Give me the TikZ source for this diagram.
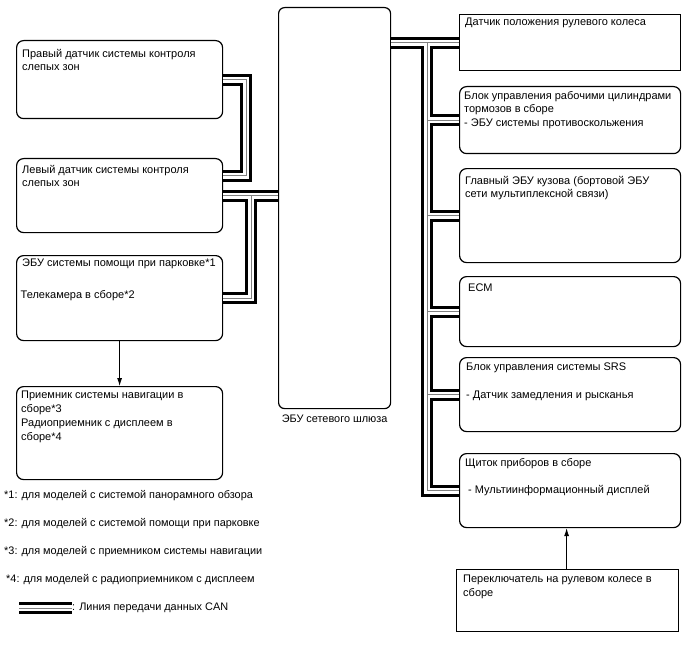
\documentclass[tikz,border=0pt]{standalone}
\usepackage{fontspec}
\setmainfont{Liberation Sans}
\usetikzlibrary{positioning,arrows.meta}
\tikzset{
 box/.style={draw, line width=1.2pt, inner sep=0pt, anchor=north west},
 rbox/.style={box, rounded corners=7pt},
 txt/.style={anchor=north west, inner sep=0pt, align=left, font=\fontsize{11}{13.5}\selectfont},
 note/.style={anchor=west, inner sep=0pt, font=\fontsize{10.9}{13}\selectfont},
 can/.style={draw=white, line width=6pt, preaction={draw=black, line width=12pt}, postaction={draw=gray, line width=1pt}},
 arr/.style={-{Latex[length=8pt,width=5pt]}, line width=.8pt}
}
\begin{document}
\begin{tikzpicture}[x=1pt,y=-1pt]
 \useasboundingbox (0,0) rectangle (688,658);
 \node[rbox, minimum width=206, minimum height=78] (rbsm) at (16,40) {};
 \node[rbox, minimum width=206, minimum height=74] (lbsm) at (16,158) {};
 \node[rbox, minimum width=206, minimum height=85] (pecu) at (16,255) {};
 \node[rbox, minimum width=206, minimum height=93] (nav) at (16,386) {};
 \node[rbox, rounded corners=6pt, minimum width=112, minimum height=401] (gw) at (278,7) {};
 \node[below=5pt of gw, inner sep=0pt, font=\fontsize{10.9}{13}\selectfont] (gwtxt) {ЭБУ сетевого шлюза};
 \node[box, minimum width=221, minimum height=56] (ssen) at (459,14) {};
 \node[rbox, minimum width=221, minimum height=67] (brake) at (459,86) {};
 \node[rbox, minimum width=221, minimum height=94] (body) at (459,168) {};
 \node[rbox, minimum width=221, minimum height=70] (ecm) at (459,276) {};
 \node[rbox, minimum width=221, minimum height=74] (srs) at (459,357) {};
 \node[rbox, minimum width=221, minimum height=74] (meter) at (459,453) {};
 \node[box, minimum width=222, minimum height=62] (sw) at (456,569) {};

 \node[txt] (rbsmtxt) at ([xshift=6,yshift=-9]rbsm.north west) {Правый датчик системы контроля\\слепых зон};
 \node[txt] (lbsmtxt) at ([xshift=6,yshift=-7]lbsm.north west) {Левый датчик системы контроля\\слепых зон};
 \node[txt] (pecutxt) at ([xshift=6,yshift=-4]pecu.north west) {ЭБУ системы помощи при парковке*1\\[18pt]\hspace*{-1.5pt}Телекамера в сборе*2};
 \node[txt] (navtxt) at ([xshift=5,yshift=-5]nav.north west) {Приемник системы навигации в\\сборе*3\\[1pt]Радиоприемник с дисплеем в\\сборе*4};
 \node[txt] (ssentxt) at ([xshift=6,yshift=-4]ssen.north west) {Датчик положения рулевого колеса};
 \node[txt] (braketxt) at ([xshift=5,yshift=-5]brake.north west) {Блок управления рабочими цилиндрами\\тормозов в сборе\\- ЭБУ системы противоскольжения};
 \node[txt] (bodytxt) at ([xshift=6,yshift=-8]body.north west) {Главный ЭБУ кузова (бортовой ЭБУ\\сети мультиплексной связи)};
 \node[txt] (ecmtxt) at ([xshift=9,yshift=-8]ecm.north west) {ECM};
 \node[txt] (srstxt) at ([xshift=7,yshift=-6]srs.north west) {Блок управления системы SRS\\[14pt]- Датчик замедления и рысканья};
 \node[txt] (metertxt) at ([xshift=6,yshift=-5]meter.north west) {Щиток приборов в сборе\\[14pt]\hspace*{3pt}- Мультиинформационный дисплей};
 \node[txt] (swtxt) at ([xshift=7,yshift=-6]sw.north west) {Переключатель на рулевом колесе в\\сборе};

 \draw[can] (rbsm.east) -- ([xshift=23]rbsm.east) |- ([yshift=20]lbsm.east);
 \draw[can] (lbsm.east) -- (lbsm.east -| gw.west) ([xshift=28]lbsm.east) |- (pecu.east);
 \coordinate (rbus) at ([xshift=-32]ssen.west);
 \draw[can] (gw.east |- ssen.west) -- (ssen.west) (rbus) |- (meter.west)
  foreach \b in {brake,body,ecm,srs} {(rbus |- \b.west) -- (\b.west)};

 \draw[arr] (pecu.south) -- (nav.north);
 \draw[arr] ([xshift=-1]sw.north) -- ([xshift=-1]sw.north |- meter.south);

 \node[note] (n1) at (4,496) {*1: для моделей с системой панорамного обзора};
 \node[note] (n2) at (4,524) {*2: для моделей с системой помощи при парковке};
 \node[note] (n3) at (4,552) {*3: для моделей с приемником системы навигации};
 \node[note] (n4) at (6,580) {*4: для моделей с радиоприемником с дисплеем};
 \coordinate (leg) at (19,608);
 \node[note] (legtxt) at (72,608) {: Линия передачи данных CAN};
 \draw[can] (leg) -- (legtxt.west);
\end{tikzpicture}
\end{document}
